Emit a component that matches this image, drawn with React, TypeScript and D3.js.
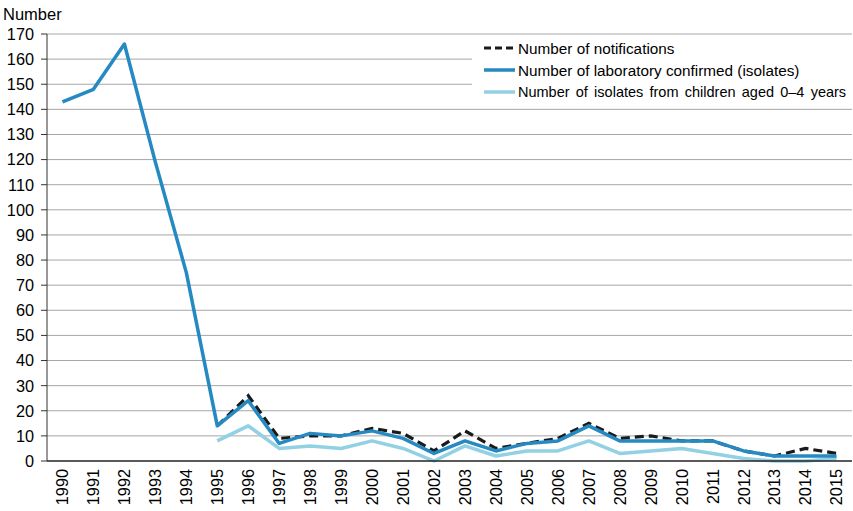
import React from "react";
import * as d3 from "d3";

const years = ["1990","1991","1992","1993","1994","1995","1996","1997","1998","1999","2000","2001","2002","2003","2004","2005","2006","2007","2008","2009","2010","2011","2012","2013","2014","2015"];
const labConfirmed: (number | null)[] = [143,148,166,119,75,14,24,7,11,10,12,9,3,8,4,7,8,14,8,8,8,8,4,2,2,2];
const notifications: (number | null)[] = [null,null,null,null,null,14,26,9,10,10,13,11,4,12,5,7,9,15,9,10,8,8,4,2,5,3];
const children: (number | null)[] = [null,null,null,null,null,8,14,5,6,5,8,5,0,6,2,4,4,8,3,4,5,3,1,0,0,1];
const yTicks = [0,10,20,30,40,50,60,70,80,90,100,110,120,130,140,150,160,170];
const legendLabels = ["Number of notifications","Number of laboratory confirmed (isolates)","Number of isolates from children aged 0\u20134 years"];

const W = 853, H = 511;
const left = 47, right = 852, top = 34, bottom = 461;
const FONT = "'Liberation Sans', Arial, sans-serif";
const BLUE = "#2589c2";
const LIGHT = "#92d1e3";

export default function App() {
  const x = d3.scaleBand<string>().domain(years).range([left, right]).paddingInner(0).paddingOuter(0);
  const y = d3.scaleLinear().domain([0, 170]).range([bottom, top]);
  const cx = (i: number) => (x(years[i]) as number) + x.bandwidth() / 2;
  const line = d3.line<number | null>()
    .defined((d) => d !== null)
    .x((_, i) => cx(i))
    .y((d) => y(d as number));

  const legendX = 484, legendY = [48, 70, 92];
  return (
    <svg width={W} height={H} style={{ position: "absolute", left: 0, top: 0, background: "#fff" }} fontFamily={FONT}>
      {yTicks.map((t) => (
        <g key={t}>
          {t > 0 && <line x1={left} x2={right} y1={y(t)} y2={y(t)} stroke="#a6a6a6" strokeWidth={1} />}
          <line x1={left - 6} x2={left} y1={y(t)} y2={y(t)} stroke="#333" strokeWidth={1} />
          <text x={34} y={y(t)} dy="0.36em" textAnchor="end" fontSize={16.3} fill="#000">{t}</text>
        </g>
      ))}
      <text x={3} y={20} fontSize={16.5} fill="#000">Number</text>
      {/* legend background */}
      <rect x={472} y={35} width={380} height={73} fill="#fff" />
      <path d={line(children) || ""} fill="none" stroke={LIGHT} strokeWidth={3.5} strokeLinejoin="round" />
      <path d={line(notifications) || ""} fill="none" stroke="#1a1a1a" strokeWidth={3.2} strokeDasharray="9,5" />
      <path d={line(labConfirmed) || ""} fill="none" stroke={BLUE} strokeWidth={3.5} strokeLinejoin="round" />
      <line x1={left} x2={left} y1={top} y2={bottom} stroke="#333" strokeWidth={1} />
      <line x1={left} x2={right} y1={bottom} y2={bottom} stroke="#222" strokeWidth={1.3} />
      {years.map((yr, i) => (
        <text key={yr} transform={`translate(${cx(i)},469) rotate(-90)`} dy="0.36em" textAnchor="end" fontSize={16.3} fill="#000">{yr}</text>
      ))}
      <line x1={legendX} x2={legendX + 31} y1={legendY[0]} y2={legendY[0]} stroke="#1a1a1a" strokeWidth={3.2} strokeDasharray="7,4" />
      <line x1={legendX} x2={legendX + 31} y1={legendY[1]} y2={legendY[1]} stroke={BLUE} strokeWidth={3.5} />
      <line x1={legendX} x2={legendX + 31} y1={legendY[2]} y2={legendY[2]} stroke={LIGHT} strokeWidth={3.5} />
      {legendLabels.map((l, i) => (
        <text key={l} x={legendX + 34} y={legendY[i]} dy="0.36em" fontSize={i === 2 ? 14.5 : 15.3} fill="#000" wordSpacing={i === 2 ? 2.2 : 0}>{l}</text>
      ))}
    </svg>
  );
}
